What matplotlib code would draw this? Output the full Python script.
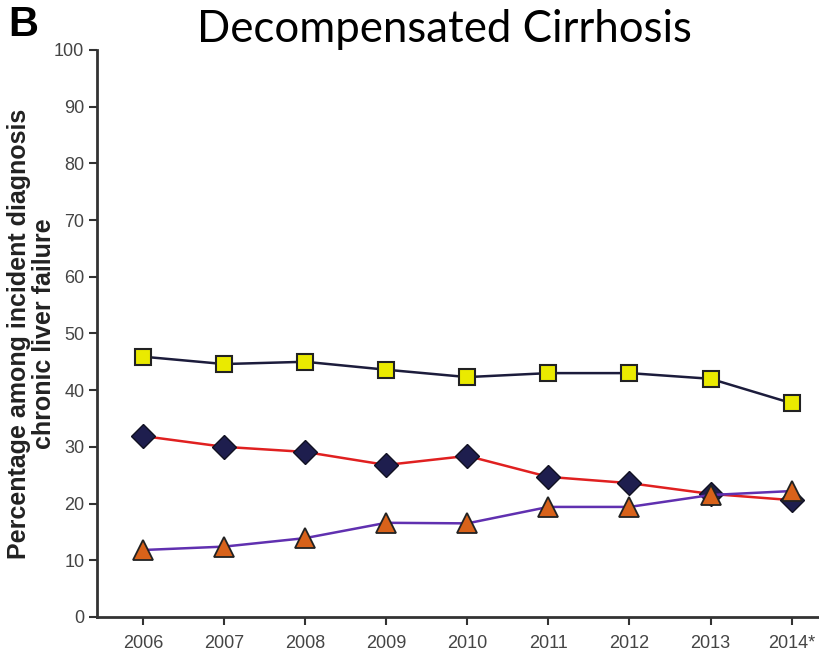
import matplotlib
matplotlib.use("Agg")
import matplotlib.pyplot as plt

years = [2006, 2007, 2008, 2009, 2010, 2011, 2012, 2013, 2014]
year_labels = ['2006', '2007', '2008', '2009', '2010', '2011', '2012', '2013', '2014*']

# values (percent)
squares = [45.9, 44.6, 45.0, 43.6, 42.3, 43.0, 43.0, 42.0, 37.7]
diamonds = [31.9, 30.0, 29.1, 26.8, 28.4, 24.7, 23.6, 21.7, 20.6]
triangles = [11.8, 12.4, 13.9, 16.6, 16.5, 19.4, 19.4, 21.5, 22.2]

plt.rcParams['font.family'] = ['Liberation Sans', 'DejaVu Sans']

fig = plt.figure(figsize=(8.2, 6.57), dpi=100)
ax = fig.add_axes([0.118, 0.061, 0.882, 0.863])

ax.plot(years, squares, color='#1c1c3c', lw=1.8, marker='s', ms=11,
        mfc='#eaea00', mec='#222222', mew=1.5, clip_on=False, zorder=3)
ax.plot(years, diamonds, color='#e02020', lw=1.8, marker='D', ms=12,
        mfc='#1e1e4e', mec='#111122', mew=1.0, clip_on=False, zorder=3)
ax.plot(years, triangles, color='#6030b0', lw=1.8, marker='^', ms=15,
        mfc='#d8621a', mec='#222222', mew=1.3, clip_on=False, zorder=4)

ax.set_xlim(2005.43, 2014.35)
ax.set_ylim(0, 100)
ax.set_yticks(range(0, 101, 10))
ax.set_xticks(years)
ax.set_xticklabels(year_labels)
ax.tick_params(axis='both', labelsize=13, labelcolor='#444444', color='#333333',
               length=6, width=1.5, direction='out')
ax.tick_params(axis='x', pad=7)
ax.tick_params(axis='y', pad=3)

for side in ['top', 'right']:
    ax.spines[side].set_visible(False)
for side in ['left', 'bottom']:
    ax.spines[side].set_linewidth(2)
    ax.spines[side].set_color('#333333')

ax.set_ylabel('Percentage among incident diagnosis\nchronic liver failure',
              fontsize=18, fontweight='bold', color='#222222',
              linespacing=1.05)
ax.yaxis.set_label_coords(-0.057, 0.5)

fig.text(0.542, 0.955, 'Decompensated Cirrhosis', ha='center', va='center',
         fontsize=31.5, family=['Lato', 'DejaVu Sans'])
fig.text(0.01, 0.962, 'B', ha='left', va='center', fontsize=30, fontweight='bold')

fig.savefig('out.png', dpi=100)
